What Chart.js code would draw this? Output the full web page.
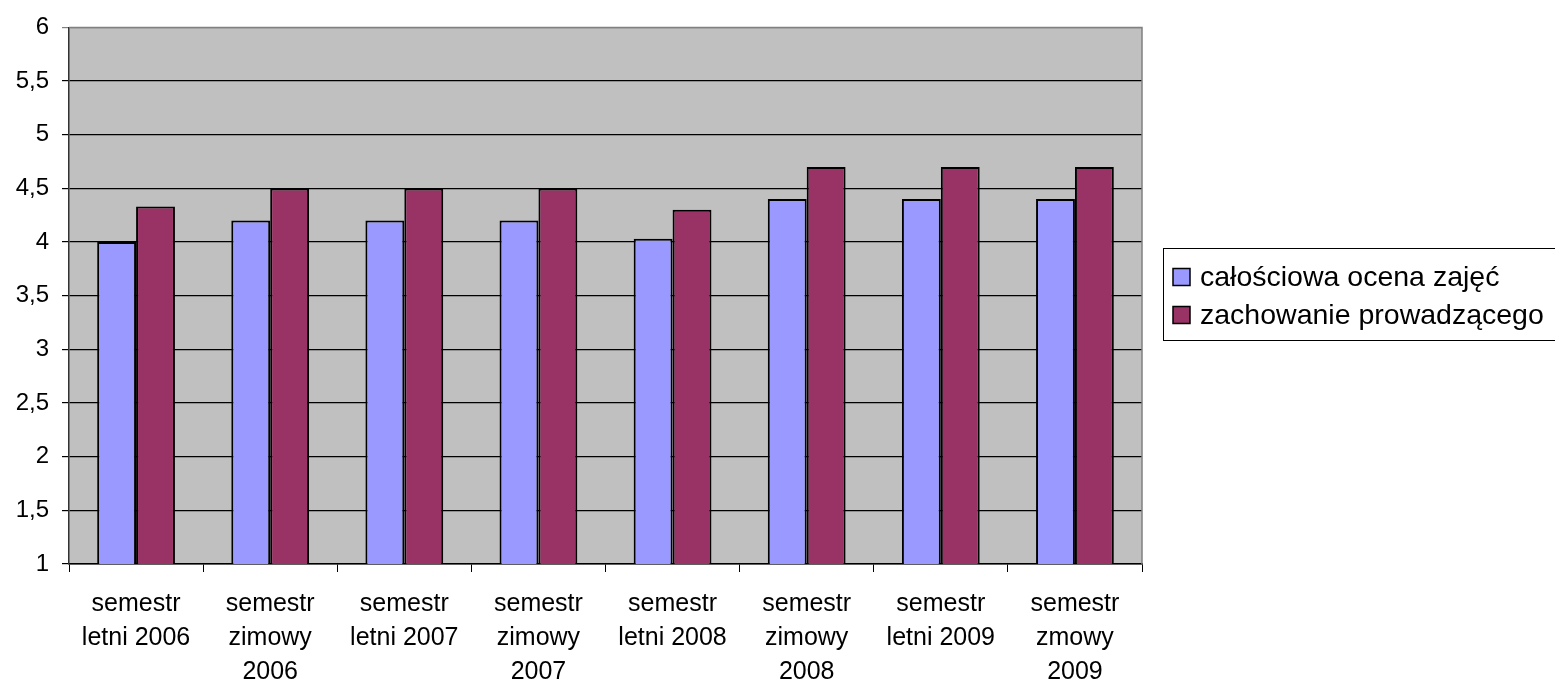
<!DOCTYPE html>
<html>
<head>
<meta charset="utf-8">
<script src="https://cdn.jsdelivr.net/npm/chart.js@4.4.0/dist/chart.umd.min.js"></script>
<style>
html,body{margin:0;padding:0;background:#fff;}
#wrap{position:relative;width:1555px;height:682px;}
</style>
</head>
<body>
<div id="wrap"><canvas id="c" width="1555" height="682"></canvas></div>
<script>
const categories = [
  ["semestr","letni 2006"],
  ["semestr","zimowy","2006"],
  ["semestr","letni 2007"],
  ["semestr","zimowy","2007"],
  ["semestr","letni 2008"],
  ["semestr","zimowy","2008"],
  ["semestr","letni 2009"],
  ["semestr","zmowy","2009"]
];
const seriesNames = ["całościowa ocena zajęć", "zachowanie prowadzącego"];
const overallRating = [4.0, 4.2, 4.2, 4.2, 4.03, 4.4, 4.4, 4.4];
const instructorConduct = [4.33, 4.5, 4.5, 4.5, 4.3, 4.7, 4.7, 4.7];
const yMin = 1, yMax = 6, yStep = 0.5;

const FONT = "'Liberation Sans', Arial, sans-serif";

const plotBg = {
  id: 'plotBg',
  beforeDraw(chart) {
    const {ctx, chartArea: a} = chart;
    ctx.save();
    ctx.fillStyle = '#C0C0C0';
    ctx.fillRect(a.left, a.top, a.right - a.left, a.bottom - a.top);
    ctx.restore();
  },
  afterDatasetsDraw(chart) {
    const {ctx, chartArea: a} = chart;
    ctx.save();
    ctx.strokeStyle = '#808080';
    ctx.lineWidth = 1.5;
    ctx.beginPath();
    ctx.moveTo(a.left, a.top);
    ctx.lineTo(a.right, a.top);
    ctx.lineTo(a.right, a.bottom);
    ctx.stroke();
    ctx.restore();
  }
};

const boxLegend = {
  id: 'boxLegend',
  afterDraw(chart) {
    const ctx = chart.ctx;
    const x0 = 1163, y0 = 248, x1 = 1560, y1 = 340;
    ctx.save();
    ctx.strokeStyle = '#000';
    ctx.lineWidth = 1;
    ctx.strokeRect(x0 + 0.5, y0 + 0.5, x1 - x0, y1 - y0);
    ctx.font = "28.5px " + FONT;
    ctx.textBaseline = 'middle';
    chart.data.datasets.forEach((ds, i) => {
      const cy = 277 + i * 38;
      ctx.fillStyle = ds.backgroundColor;
      ctx.fillRect(1173, cy - 8.5, 17, 17);
      ctx.strokeStyle = '#000';
      ctx.lineWidth = 1.5;
      ctx.strokeRect(1173, cy - 8.5, 17, 17);
      ctx.fillStyle = '#000';
      ctx.fillText(ds.label, 1200, cy + 1);
    });
    ctx.restore();
  }
};

new Chart(document.getElementById('c'), {
  type: 'bar',
  data: {
    labels: categories,
    datasets: [
      {label: seriesNames[0], data: overallRating, backgroundColor: '#9999FF', borderColor: '#000', borderWidth: 2, borderSkipped: false},
      {label: seriesNames[1], data: instructorConduct, backgroundColor: '#993366', borderColor: '#000', borderWidth: 2, borderSkipped: false}
    ]
  },
  options: {
    responsive: false,
    animation: false,
    layout: {padding: {top: 25, right: 413, left: 0, bottom: 0}},
    datasets: {bar: {barPercentage: 1, categoryPercentage: 0.58}},
    plugins: {legend: {display: false}, tooltip: {enabled: false}},
    scales: {
      x: {
        afterFit(s) { s.height = 118; },
        grid: {offset: true, drawOnChartArea: false, tickLength: 8, color: '#000', lineWidth: 1},
        border: {display: true, color: '#000', width: 1.5},
        ticks: {color: '#000', padding: 15, maxRotation: 0, autoSkip: false, font: {family: FONT, size: 25, lineHeight: 1.36}}
      },
      y: {
        min: yMin, max: yMax,
        afterFit(s) { s.width = 69; },
        grid: {color: (c) => c.tick && c.tick.value === yMax ? '#808080' : '#000', lineWidth: 1.2, tickLength: 7},
        border: {display: true, color: '#333', width: 1.5},
        ticks: {stepSize: yStep, color: '#000', padding: 13, font: {family: FONT, size: 24},
          callback: (v) => String(v).replace('.', ',')}
      }
    }
  },
  plugins: [plotBg, boxLegend]
});
</script>
</body>
</html>
